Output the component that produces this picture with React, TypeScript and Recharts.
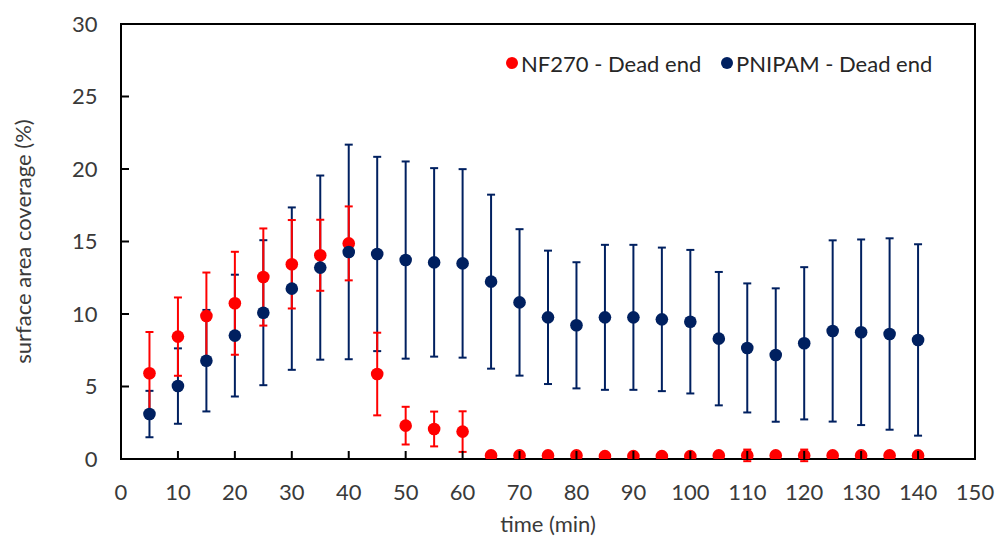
import React from 'react';
import { ScatterChart, Scatter, XAxis, YAxis, ErrorBar, ReferenceArea } from 'recharts';

const times = [5, 10, 15, 20, 25, 30, 35, 40, 45, 50, 55, 60, 65, 70, 75, 80, 85, 90, 95, 100, 105, 110, 115, 120, 125, 130, 135, 140];
const nf270Mean = [5.91, 8.44, 9.86, 10.74, 12.55, 13.43, 14.05, 14.87, 5.86, 2.3, 2.07, 1.89, 0.25, 0.25, 0.25, 0.25, 0.2, 0.2, 0.2, 0.2, 0.25, 0.25, 0.25, 0.25, 0.25, 0.25, 0.25, 0.25];
const nf270Err = [2.85, 2.7, 3.0, 3.55, 3.35, 3.05, 2.45, 2.55, 2.85, 1.3, 1.2, 1.4, 0.15, 0.15, 0.15, 0.15, 0.1, 0.1, 0.1, 0.1, 0.2, 0.4, 0.2, 0.4, 0.15, 0.15, 0.15, 0.15];
const pnipamMean = [3.1, 5.03, 6.78, 8.51, 10.09, 11.75, 13.2, 14.28, 14.14, 13.72, 13.56, 13.49, 12.23, 10.8, 9.77, 9.22, 9.77, 9.77, 9.63, 9.47, 8.3, 7.66, 7.17, 7.98, 8.83, 8.74, 8.62, 8.21];
const pnipamErr = [1.6, 2.6, 3.5, 4.2, 5.0, 5.6, 6.35, 7.4, 6.7, 6.8, 6.5, 6.5, 6.0, 5.05, 4.6, 4.35, 5.0, 5.0, 4.95, 4.95, 4.6, 4.45, 4.6, 5.25, 6.25, 6.4, 6.6, 6.6];
const xTicks = [0, 10, 20, 30, 40, 50, 60, 70, 80, 90, 100, 110, 120, 130, 140, 150];
const yTicks = [0, 5, 10, 15, 20, 25, 30];
const seriesNames = ['NF270 - Dead end', 'PNIPAM - Dead end'];
const xLabel = 'time (min)';
const yLabel = 'surface area coverage (%)';

const RED = '#FF0000';
const NAVY = '#002060';
const FONT = 'Lato, "Noto Sans", sans-serif';
const TEXT = '#3a3a3a';
const TICK_LEN = 8;
const Y_MARGIN = 23.5;
const X_MARGIN = 33;

const nfData = times.map((t, i) => ({ x: t, y: nf270Mean[i], err: nf270Err[i] }));
const pnData = times.map((t, i) => ({ x: t, y: pnipamMean[i], err: pnipamErr[i] }));

const YTick = (props: any) => {
  const { x, y, payload } = props;
  const ax = x + Y_MARGIN;
  return (
    <g>
      <line x1={ax} x2={ax + TICK_LEN} y1={y} y2={y} stroke="#000" strokeWidth={2} />
      <text x={x} y={y} dy="0.36em" textAnchor="end" fontFamily={FONT} fontSize={22} fill={TEXT}>
        {payload.value}
      </text>
    </g>
  );
};

const XTick = (props: any) => {
  const { x, y, payload } = props;
  const ay = y - X_MARGIN;
  return (
    <g>
      <line x1={x} x2={x} y1={ay} y2={ay - TICK_LEN} stroke="#000" strokeWidth={2} />
      <text x={x} y={y} dy="0.36em" textAnchor="middle" fontFamily={FONT} fontSize={22} fill={TEXT}>
        {payload.value}
      </text>
    </g>
  );
};

const YLabel = (props: any) => {
  const vb = props.viewBox || {};
  const cx = (vb.x || 0) + 23;
  const cy = (vb.y || 0) + (vb.height || 0) / 2;
  return (
    <text x={cx} y={cy} dy="0.36em" transform={`rotate(-90 ${cx} ${cy})`} textAnchor="middle" fontFamily={FONT} fontSize={22} fill={TEXT}>
      {yLabel}
    </text>
  );
};

const XLabel = (props: any) => {
  const vb = props.viewBox || {};
  const cx = (vb.x || 0) + (vb.width || 0) / 2;
  const cy = (vb.y || 0) + 65;
  return (
    <text x={cx} y={cy} dy="0.36em" textAnchor="middle" fontFamily={FONT} fontSize={22} fill={TEXT}>
      {xLabel}
    </text>
  );
};

const dot = (color: string) => (props: any) => (
  <circle cx={props.cx} cy={props.cy} r={6.3} fill={color} />
);
const none = () => <g />;

const LegendItem = ({ left, color, label }: { left: number; color: string; label: string }) => (
  <div style={{ position: 'absolute', left, top: 51, height: 24, display: 'flex', alignItems: 'center', fontFamily: FONT, fontSize: 22, color: '#262626', whiteSpace: 'nowrap' }}>
    <span style={{ display: 'inline-block', width: 12, height: 12, borderRadius: '50%', background: color, marginRight: 3 }} />
    <span>{label}</span>
  </div>
);

export default function App() {
  return (
    <div style={{ position: 'absolute', left: 0, top: 0, width: 996, height: 540, background: '#fff' }}>
      <ScatterChart width={996} height={540} margin={{ top: 24, right: 21, bottom: 0, left: 0 }}>
        <XAxis
          type="number"
          dataKey="x"
          domain={[0, 150]}
          ticks={xTicks}
          interval={0}
          height={81}
          tickSize={0}
          tickMargin={X_MARGIN}
          tickLine={false}
          axisLine={{ stroke: '#000', strokeWidth: 2 }}
          tick={<XTick />}
          label={<XLabel />}
          allowDataOverflow
        />
        <YAxis
          type="number"
          dataKey="y"
          domain={[0, 30]}
          ticks={yTicks}
          interval={0}
          width={121}
          tickSize={0}
          tickMargin={Y_MARGIN}
          tickLine={false}
          axisLine={{ stroke: '#000', strokeWidth: 2 }}
          tick={<YTick />}
          label={<YLabel />}
          allowDataOverflow
        />
        <ReferenceArea x1={0} x2={150} y1={0} y2={30} fill="none" stroke="#000" strokeWidth={2} fillOpacity={0} />
        <Scatter data={pnData} shape={none} isAnimationActive={false}>
          <ErrorBar dataKey="err" direction="y" width={4} stroke={NAVY} strokeWidth={2} isAnimationActive={false} />
        </Scatter>
        <Scatter data={nfData} shape={none} isAnimationActive={false}>
          <ErrorBar dataKey="err" direction="y" width={4} stroke={RED} strokeWidth={2} isAnimationActive={false} />
        </Scatter>
        <Scatter name={seriesNames[0]} data={nfData} shape={dot(RED)} isAnimationActive={false} />
        <Scatter name={seriesNames[1]} data={pnData} shape={dot(NAVY)} isAnimationActive={false} />
      </ScatterChart>
      <LegendItem left={506} color={RED} label={seriesNames[0]} />
      <LegendItem left={721} color={NAVY} label={seriesNames[1]} />
    </div>
  );
}
